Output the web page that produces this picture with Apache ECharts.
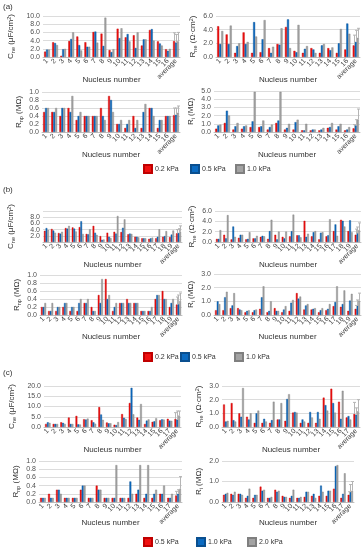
<!DOCTYPE html>
<html><head><meta charset="utf-8">
<script src="https://cdn.jsdelivr.net/npm/echarts@6.0.0/dist/echarts.min.js"></script>
<style>html,body{margin:0;padding:0;background:#fff}#c{width:364px;height:550px}</style>
</head><body><div id="c"></div>
<script>
// ---------- categories ----------
const catsA = ['1','2','3','4','5','6','7','8','9','10','11','12','13','14','15','16','average'];
const catsB = ['1','2','3','4','5','6','7','8','9','10','11','12','13','14','15','16','17','18','19','average'];
const catsC = ['1','2','3','4','5','6','7','8','9','10','11','12','13','14','15','16','17','average'];
const seriesNamesAB = ['0.2 kPa','0.5 kPa','1.0 kPa'];
const seriesNamesC = ['0.5 kPa','1.0 kPa','2.0 kPa'];

// ---------- (a) ----------
const aCne_r = [1.3,3.6,0.3,3.9,5.0,3.6,6.1,5.7,1.7,6.9,4.8,5.3,2.8,6.6,3.8,1.9,3.9];
const aCne_b = [1.8,3.4,1.9,4.4,2.9,2.5,6.2,2.7,1.2,4.6,5.6,2.2,4.3,6.8,3.3,1.5,3.5];
const aCne_g = [1.8,2.9,2.0,6.0,1.6,2.5,3.5,9.6,1.9,7.0,3.8,6.0,4.3,4.0,2.8,2.0,3.8];
const aCne_err = [2.0,2.0,2.2];
const aRne_r = [4.5,3.3,0.6,3.6,0.6,0.7,1.3,1.9,4.4,0.9,0.6,1.3,0.6,1.3,0.6,1.1,1.7];
const aRne_b = [1.9,1.9,1.6,1.9,5.1,2.6,0.6,1.8,5.5,0.7,1.2,1.1,1.7,1.0,2.0,4.9,2.2];
const aRne_g = [3.8,4.6,2.0,2.2,3.0,5.4,1.5,4.2,1.3,4.7,1.6,0.6,1.9,1.4,4.1,3.4,2.8];
const aRne_err = [1.5,1.7,1.4];
const aRnp_r = [0.5,0.5,0.4,0.6,0.3,0.4,0.4,0.6,0.9,0.2,0.1,0.4,0.1,0.6,0.1,0.4,0.42];
const aRnp_b = [0.6,0.5,0.6,0.5,0.4,0.4,0.4,0.4,0.8,0.2,0.2,0.1,0.5,0.6,0.3,0.4,0.43];
const aRnp_g = [0.6,0.6,0.6,0.9,0.5,0.4,0.4,0.3,0.5,0.3,0.3,0.3,0.7,0.4,0.3,0.4,0.48];
const aRnp_err = [0.18,0.17,0.17];
const aRi_r = [0.4,1.1,0.3,0.4,0.6,0.6,0.3,1.1,0.3,0.3,0.2,0.2,0.2,0.5,0.3,0.2,0.45];
const aRi_b = [0.8,2.6,0.7,0.7,1.3,0.7,0.6,1.4,0.5,1.2,0.2,0.3,0.3,0.6,0.7,0.3,0.8];
const aRi_g = [0.9,2.0,1.1,0.8,4.9,1.4,0.9,4.9,1.0,1.5,1.0,0.3,0.5,1.1,1.0,0.6,1.5];
const aRi_err = [0.45,0.7,1.3];

// ---------- (b) ----------
const bCne_r = [3.6,4.2,2.9,4.5,4.7,4.8,2.6,5.2,1.9,3.0,3.3,3.2,2.5,1.7,1.2,1.0,1.2,1.7,1.6,2.8];
const bCne_b = [4.5,3.7,2.7,4.3,4.3,6.7,2.5,3.0,0.7,1.7,2.7,4.6,2.7,1.7,1.2,1.2,1.7,1.9,2.4,2.9];
const bCne_g = [3.9,3.0,3.3,5.2,3.4,2.6,4.1,2.3,0.8,1.3,8.4,7.3,2.6,1.5,1.2,1.4,4.1,3.5,3.7,3.3];
const bCne_err = [1.2,1.4,1.9];
const bRne_r = [0.6,1.4,0.5,0.8,0.5,0.7,1.0,0.6,1.4,1.0,1.1,1.3,4.1,1.1,0.5,1.1,2.1,4.3,2.1,1.4];
const bRne_b = [0.6,0.7,3.0,1.4,0.6,0.7,1.2,2.1,0.5,0.7,2.1,1.3,1.0,1.9,1.8,1.3,3.4,4.1,4.2,1.7];
const bRne_g = [2.3,5.2,1.0,1.4,1.9,1.2,1.1,4.3,2.0,2.0,5.3,0.9,1.6,2.1,1.9,4.4,1.2,3.0,1.9,2.3];
const bRne_err = [1.1,1.2,1.4];
const bRnp_r = [0.2,0.1,0.1,0.2,0.1,0.1,0.3,0.2,0.5,0.9,0.1,0.3,0.4,0.3,0.1,0.1,0.4,0.6,0.2,0.26];
const bRnp_b = [0.2,0.1,0.2,0.3,0.2,0.3,0.3,0.1,0.3,0.4,0.2,0.3,0.3,0.3,0.1,0.1,0.5,0.4,0.3,0.27];
const bRnp_g = [0.3,0.3,0.2,0.3,0.2,0.4,0.4,0.1,0.9,0.5,0.3,0.3,0.3,0.3,0.1,0.2,0.5,0.4,0.4,0.35];
const bRnp_err = [0.19,0.23,0.2];
const bRi_r = [0.35,0.35,0.5,0.5,0.2,0.2,0.45,0.2,0.5,0.2,0.3,1.6,0.4,0.4,0.2,0.35,0.65,0.6,0.3,0.45];
const bRi_b = [1.0,1.3,0.7,0.4,0.3,0.35,1.3,0.3,0.3,0.4,0.9,1.2,0.7,0.45,0.35,0.45,0.95,0.8,1.05,0.7];
const bRi_g = [0.8,1.7,1.6,0.35,0.35,0.4,2.1,1.0,0.3,0.65,1.1,1.35,0.8,0.5,0.5,0.8,2.1,1.8,1.55,1.05];
const bRi_err = [0.25,0.4,0.55];

// ---------- (c) ----------
const cCne_r = [1.5,1.5,2.3,4.6,5.4,3.8,3.3,9.7,2.2,1.1,6.3,11.7,4.6,1.5,2.5,3.3,4.0,3.9];
const cCne_b = [2.3,1.5,2.0,1.5,1.3,3.6,2.3,6.1,1.8,0.9,4.5,19.1,3.5,3.1,2.8,3.7,3.1,3.6];
const cCne_g = [2.0,1.5,1.5,1.5,1.2,4.1,1.6,3.5,1.8,2.4,3.9,6.2,11.2,3.7,4.3,3.6,3.0,5.6];
const cCne_err = [3.1,4.2,2.2];
const cRne_r = [1.65,1.75,1.0,0.75,0.3,0.3,0.3,0.55,0.45,1.05,0.3,0.3,0.3,2.15,2.8,1.85,0.7,0.95];
const cRne_b = [0.4,0.5,0.75,0.55,1.0,0.6,0.5,0.55,2.05,1.1,0.55,1.1,1.1,1.6,1.75,0.6,0.8,0.9];
const cRne_g = [0.45,0.4,2.85,1.0,1.2,0.4,1.85,1.75,2.4,1.05,0.4,0.7,0.6,1.2,1.05,2.65,0.55,1.15];
const cRne_err = [0.85,0.5,0.85];
const cRnp_r = [0.1,0.2,0.3,0.1,0.1,0.3,0.1,0.4,0.1,0.1,0.1,0.1,0.2,0.1,0.1,0.2,0.1,0.16];
const cRnp_b = [0.1,0.1,0.3,0.1,0.1,0.4,0.1,0.3,0.1,0.1,0.1,0.5,0.3,0.2,0.2,0.2,0.1,0.2];
const cRnp_g = [0.1,0.1,0.2,0.1,0.1,0.4,0.1,0.3,0.1,0.9,0.1,0.2,0.9,0.9,0.3,0.4,0.2,0.32];
const cRnp_err = [0.1,0.1,0.3];
const cRi_r = [0.35,0.4,0.4,0.2,0.2,0.75,0.2,0.6,0.3,0.2,0.2,0.25,0.3,0.3,0.3,0.65,0.2,0.35];
const cRi_b = [0.4,0.35,0.4,0.3,0.35,0.55,0.2,0.5,0.25,0.3,0.2,0.5,0.4,0.8,0.55,1.75,0.4,0.5];
const cRi_g = [0.45,0.5,0.35,0.65,0.35,0.6,0.25,0.55,0.25,0.6,0.25,0.5,0.2,0.5,0.55,1.8,1.4,0.55];
const cRi_err = [0.15,0.35,0.45];

// ---------- layout / style (not data) ----------
const COLORS = ['#f01010','#0b6bc2','#a3a3a3'];
const BORDERS = ['#c00000','#0a4f8f','#7f7f7f'];
const FONT = 'Liberation Sans, Arial, sans-serif';
const CAT_GAP = 0.28;

const NAME_CNE = '{n|C}{s|ne}{n| (μF/cm}{p|2}{n|)}';
const NAME_RNE = '{n|R}{s|ne}{n| (Ω·cm}{p|2}{n|)}';
const NAME_RNP = '{n|R}{s|np}{n| (MΩ)}';
const NAME_RI  = '{n|R}{s|i}{n| (MΩ)}';

const panels = [
  {cats:catsA, v:[aCne_r,aCne_b,aCne_g], err:aCne_err, max:10, step:2, name:NAME_CNE, names:seriesNamesAB, pre:'',
   box:{left:43, top:16, width:137, height:41}, yGap:27, xGap:19},
  {cats:catsA, v:[aRne_r,aRne_b,aRne_g], err:aRne_err, max:6, step:2, name:NAME_RNE, names:seriesNamesAB, pre:'',
   box:{left:216, top:16, width:144, height:41}, yGap:18, xGap:19},
  {cats:catsA, v:[aRnp_r,aRnp_b,aRnp_g], err:aRnp_err, max:1, step:0.2, name:NAME_RNP, names:seriesNamesAB, pre:'',
   box:{left:42, top:92, width:138, height:40}, yGap:18, xGap:19},
  {cats:catsA, v:[aRi_r,aRi_b,aRi_g], err:aRi_err, max:5, step:1, name:NAME_RI, names:seriesNamesAB, pre:'',
   box:{left:214, top:91, width:146, height:41}, yGap:18, xGap:19},

  {cats:catsB, v:[bCne_r,bCne_b,bCne_g], err:bCne_err, max:10, step:2, name:NAME_CNE, names:seriesNamesAB, pre:'',
   box:{left:43, top:211, width:139, height:31}, yGap:27, xGap:19},
  {cats:catsB, v:[bRne_r,bRne_b,bRne_g], err:bRne_err, max:6, step:2, name:NAME_RNE, names:seriesNamesAB, pre:'',
   box:{left:215, top:211, width:146, height:31}, yGap:18, xGap:19},
  {cats:catsB, v:[bRnp_r,bRnp_b,bRnp_g], err:bRnp_err, max:1, step:0.2, name:NAME_RNP, names:seriesNamesAB, pre:'',
   box:{left:40, top:275, width:142, height:40}, yGap:18, xGap:18},
  {cats:catsB, v:[bRi_r,bRi_b,bRi_g], err:bRi_err, max:3, step:1, name:NAME_RI, names:seriesNamesAB, pre:'',
   box:{left:214, top:274, width:147, height:41}, yGap:18, xGap:18},

  {cats:catsC, v:[cCne_r,cCne_b,cCne_g], err:cCne_err, max:20, step:5, name:NAME_CNE, names:seriesNamesC, pre:'c:',
   box:{left:44, top:386, width:137, height:41}, yGap:27, xGap:19},
  {cats:catsC, v:[cRne_r,cRne_b,cRne_g], err:cRne_err, max:3, step:1, name:NAME_RNE, names:seriesNamesC, pre:'c:',
   box:{left:222, top:386, width:138, height:41}, yGap:18, xGap:19},
  {cats:catsC, v:[cRnp_r,cRnp_b,cRnp_g], err:cRnp_err, max:1, step:0.2, name:NAME_RNP, names:seriesNamesC, pre:'c:',
   box:{left:39, top:461, width:143, height:41}, yGap:18, xGap:17},
  {cats:catsC, v:[cRi_r,cRi_b,cRi_g], err:cRi_err, max:2, step:1, name:NAME_RI, names:seriesNamesC, pre:'c:',
   box:{left:222, top:461, width:132, height:41}, yGap:18, xGap:17}
];

const richName = {
  n:{fontSize:8, lineHeight:10, color:'#333', fontFamily:FONT},
  s:{fontSize:5.5, lineHeight:6, verticalAlign:'bottom', color:'#333', fontFamily:FONT},
  p:{fontSize:5.5, lineHeight:6, verticalAlign:'top', color:'#333', fontFamily:FONT}
};

function errRenderer(k){
  return function(params, api){
    const i = api.value(0), v = api.value(1), t = api.value(2);
    const p0 = api.coord([i, v]);
    const p1 = api.coord([i, t]);
    const cw = api.size([1, 0])[0];
    const bw = cw * (1 - CAT_GAP) / 3;
    const x = Math.round(p0[0] + (k - 1) * bw) + 0.5;
    return {type:'group', children:[
      {type:'line', shape:{x1:x, y1:p0[1], x2:x, y2:p1[1]}, style:{stroke:'#b5b5b5', lineWidth:1}},
      {type:'line', shape:{x1:x-1.5, y1:p1[1], x2:x+1.5, y2:p1[1]}, style:{stroke:'#b5b5b5', lineWidth:1}}
    ]};
  };
}

const grid = [], xAxis = [], yAxis = [], series = [];
panels.forEach((p, gi) => {
  grid.push(Object.assign({containLabel:false}, p.box));
  xAxis.push({
    type:'category', gridIndex:gi, data:p.cats,
    axisTick:{show:false},
    axisLine:{lineStyle:{color:'#bfbfbf', width:1}},
    axisLabel:{rotate:45, interval:0, fontSize:7, margin:3, color:'#404040', fontFamily:FONT},
    name:'Nucleus number', nameLocation:'middle', nameGap:p.xGap, nameMoveOverlap:false,
    nameTextStyle:{fontSize:8, color:'#333', fontFamily:FONT}
  });
  yAxis.push({
    type:'value', gridIndex:gi, min:0, max:p.max, interval:p.step,
    axisLine:{show:false}, axisTick:{show:false},
    splitLine:{lineStyle:{color:'#dcdcdc', width:1}},
    axisLabel:{fontSize:7, margin:3, color:'#505050', fontFamily:FONT, formatter:v => v.toFixed(1)},
    name:p.name, nameLocation:'middle', nameRotate:90, nameGap:p.yGap, nameMoveOverlap:false,
    nameTextStyle:{rich:richName}
  });
  for (let k = 0; k < 3; k++) {
    series.push({
      type:'bar', name:p.pre + p.names[k], xAxisIndex:gi, yAxisIndex:gi,
      data:p.v[k], barGap:'0%', barCategoryGap:(CAT_GAP*100)+'%',
      itemStyle:{color:COLORS[k], borderColor:BORDERS[k], borderWidth:0.4},
      emphasis:{disabled:true}, animation:false
    });
  }
  for (let k = 0; k < 3; k++) {
    const last = p.cats.length - 1;
    const val = p.v[k][last];
    series.push({
      type:'custom', xAxisIndex:gi, yAxisIndex:gi, renderItem:errRenderer(k),
      data:[[last, val, val + p.err[k]]], z:5, silent:true, animation:false,
      encode:{x:0, y:[1,2]}
    });
  }
});

// legends: one legend per item so each sits where the reference has it
const legendRows = [
  {top:164, pre:'', names:seriesNamesAB, xs:[143,190,235]},
  {top:352, pre:'', names:seriesNamesAB, xs:[143,180,234]},
  {top:537, pre:'c:', names:seriesNamesC, xs:[143,196,247]}
];
const legend = [];
legendRows.forEach(r => {
  r.names.forEach((n, k) => {
    legend.push({
      data:[r.pre + n], left:r.xs[k], top:r.top, padding:0, itemGap:0,
      itemWidth:8, itemHeight:8, icon:'rect', selectedMode:false,
      textStyle:{fontSize:7, color:'#333', fontFamily:FONT, padding:[0,0,0,-2]},
      formatter: name => name.replace(/^c:/, '')
    });
  });
});

const graphic = [
  {type:'text', left:3, top:3, style:{text:'(a)', fontSize:8, fill:'#333', fontFamily:FONT}},
  {type:'text', left:3, top:186, style:{text:'(b)', fontSize:8, fill:'#333', fontFamily:FONT}},
  {type:'text', left:3, top:369, style:{text:'(c)', fontSize:8, fill:'#333', fontFamily:FONT}}
];

const chart = echarts.init(document.getElementById('c'), null, {renderer:'canvas'});
chart.setOption({
  animation:false, backgroundColor:'#fff',
  textStyle:{fontFamily:FONT},
  grid, xAxis, yAxis, series, legend, graphic
});
</script>
</body></html>
